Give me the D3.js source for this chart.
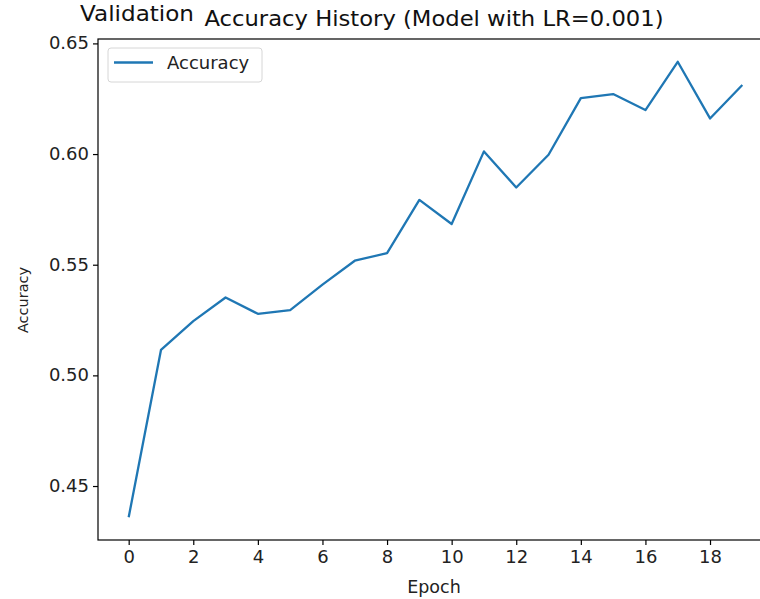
<!DOCTYPE html>
<html>
<head>
<meta charset="utf-8">
<script src="https://cdn.jsdelivr.net/npm/d3@7"></script>
<style>
  body { margin: 0; background: #fff; }
  svg { display: block; font-family: "DejaVu Sans", sans-serif; }
</style>
</head>
<body>
<div id="chart"></div>
<script>
const epochs = d3.range(0, 20)
const accuracy = [0.4359, 0.5115, 0.5245, 0.5352, 0.5278, 0.5295, 0.5410, 0.5518, 0.5552, 0.5793,
  0.5684, 0.6012, 0.5849, 0.5997, 0.6253, 0.6271, 0.6199, 0.6417, 0.6161, 0.6312]
const xTicks = [0, 2, 4, 6, 8, 10, 12, 14, 16, 18]
const yTicks = [0.45, 0.50, 0.55, 0.60, 0.65]

const width = 760, height = 599
const plot = {left: 98, right: 773, top: 39, bottom: 540}

const svg = d3.select("#chart")
  .append("svg")
    .attr("width", width)
    .attr("height", height)

// matplotlib style 5% margins
const xPad = (d3.max(epochs) - d3.min(epochs)) * 0.05
const yExt = d3.extent(accuracy)
const yPad = (yExt[1] - yExt[0]) * 0.05

const x = d3.scaleLinear()
  .domain([d3.min(epochs) - xPad, d3.max(epochs) + xPad])
  .range([plot.left, plot.right])

const y = d3.scaleLinear()
  .domain([yExt[0] - yPad, yExt[1] + yPad])
  .range([plot.bottom, plot.top])

// frame
svg.append("rect")
  .attr("x", plot.left)
  .attr("y", plot.top)
  .attr("width", plot.right - plot.left)
  .attr("height", plot.bottom - plot.top)
  .attr("fill", "none")
  .attr("stroke", "#000")
  .attr("stroke-width", 1.2)

// Axis
const xAxis = svg.append("g")
  .attr("transform", "translate(0," + plot.bottom + ")")
  .call(d3.axisBottom(x).tickValues(xTicks).tickSizeOuter(0).tickSize(5).tickPadding(6))

const yAxis = svg.append("g")
  .attr("transform", "translate(" + plot.left + ",0)")
  .call(d3.axisLeft(y).tickValues(yTicks).tickFormat(d3.format(".2f")).tickSizeOuter(0).tickSize(5).tickPadding(6))

for (const g of [xAxis, yAxis]) {
  g.select(".domain").remove()
  g.selectAll("line").attr("stroke", "#000").attr("stroke-width", 1.2)
  g.selectAll("text")
    .attr("fill", "#222")
    .attr("transform", "scale(1.06,1)")
    .style("font-family", "DejaVu Sans")
    .style("font-size", "17px")
}
yAxis.selectAll("text").attr("x", -8.5)

// line
svg.append("path")
  .datum(accuracy)
  .attr("fill", "none")
  .attr("stroke", "#1f77b4")
  .attr("stroke-width", 2.3)
  .attr("stroke-linejoin", "round")
  .attr("d", d3.line()
    .x((d, i) => x(epochs[i]))
    .y(d => y(d)))

// labels
svg.append("text")
  .attr("x", 434)
  .attr("y", 593)
  .attr("text-anchor", "middle")
  .attr("fill", "#222")
  .style("font-size", "17.5px")
  .text("Epoch")

svg.append("text")
  .attr("transform", "translate(28,300) rotate(-90)")
  .attr("text-anchor", "middle")
  .attr("fill", "#222")
  .style("font-size", "14.5px")
  .text("Accuracy")

svg.append("g")
  .attr("transform", "translate(80,21)")
  .append("text")
  .attr("transform", "scale(1.1,1)")
  .attr("fill", "#111")
  .style("font-size", "21px")
  .text("Validation")

svg.append("g")
  .attr("transform", "translate(434,26)")
  .append("text")
  .attr("transform", "scale(1.08,1)")
  .attr("text-anchor", "middle")
  .attr("fill", "#111")
  .style("font-size", "21px")
  .text("Accuracy History (Model with LR=0.001)")

// legend
const legend = svg.append("g")
  .attr("transform", "translate(108,48)")

legend.append("rect")
  .attr("width", 154)
  .attr("height", 34)
  .attr("rx", 3)
  .attr("fill", "#fff")
  .attr("fill-opacity", 0.8)
  .attr("stroke", "#d6d6d6")

legend.append("line")
  .attr("x1", 6)
  .attr("x2", 45)
  .attr("y1", 14.5)
  .attr("y2", 14.5)
  .attr("stroke", "#1f77b4")
  .attr("stroke-width", 2.3)

legend.append("text")
  .attr("x", 59)
  .attr("y", 21)
  .attr("fill", "#222")
  .style("font-size", "18px")
  .text("Accuracy")
</script>
</body>
</html>
